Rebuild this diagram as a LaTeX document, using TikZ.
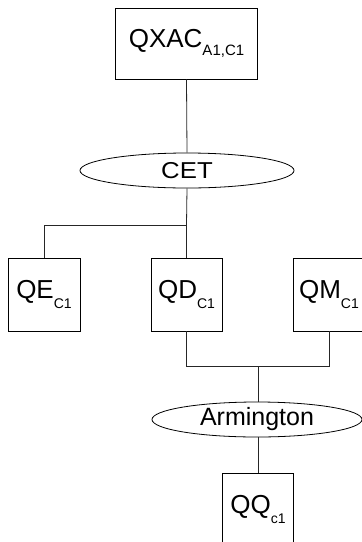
\documentclass[tikz,border=0pt]{standalone}
\usepackage{fontspec}
\setmainfont{Liberation Sans}
\usetikzlibrary{shapes.geometric}
\newcommand{\sbs}[1]{\raisebox{-10pt}{\fontsize{14}{14}\selectfont #1}}
\newcommand{\sbsbig}[1]{\raisebox{-8.5pt}{\fontsize{15}{15}\selectfont #1}}
\tikzset{
  box/.style={draw, line width=0.8pt, rectangle, inner sep=0pt, minimum width=71pt, minimum height=73pt, font=\fontsize{26}{26}\selectfont},
  ell/.style={draw, line width=0.8pt, ellipse, inner sep=0pt, minimum height=35pt, font=\fontsize{25}{25}\selectfont},
  conn/.style={draw, line width=0.8pt, color=black!85}
}
\begin{document}
\begin{tikzpicture}[x=1pt,y=-1pt]
\useasboundingbox (0,0) rectangle (362,542);
\clip (0,0) rectangle (362,542);
\node[box, minimum width=142pt, minimum height=71pt] (qxac) at (186.5,43.5) {QXAC\sbsbig{A1,C1}};
\node[ell, minimum width=214pt] (cet) at (187,170.5) {\fontsize{23}{23}\selectfont\scalebox{1.12}[1]{CET}};
\node[box, minimum width=72pt] (qe) at (44,294.5) {QE\sbs{C1}};
\node[box] (qd) at (186.5,294.5) {QD\sbs{C1}};
\node[box, minimum width=72pt] (qm) at (329,294.5) {QM\sbs{C1}};
\node[ell, minimum width=210pt] (arm) at (257,419.5) {Armington};
\node[box] (qq) at (258,509.5) {QQ\sbs{c1}};
\coordinate (j1) at (186.5,225);
\coordinate (j2) at (258,366.5);
\draw[conn] (qxac.south) -- (cet.north);
\draw[conn] (cet.south) -- (j1);
\draw[conn] (j1) -| (qe.north);
\draw[conn] (j1) -- (qd.north);
\draw[conn] (qd.south) |- (j2);
\draw[conn] (j2) -| (qm.south);
\draw[conn] (j2) -- (arm.north -| j2);
\draw[conn] (arm.south -| qq.north) -- (qq.north);
\end{tikzpicture}
\end{document}
